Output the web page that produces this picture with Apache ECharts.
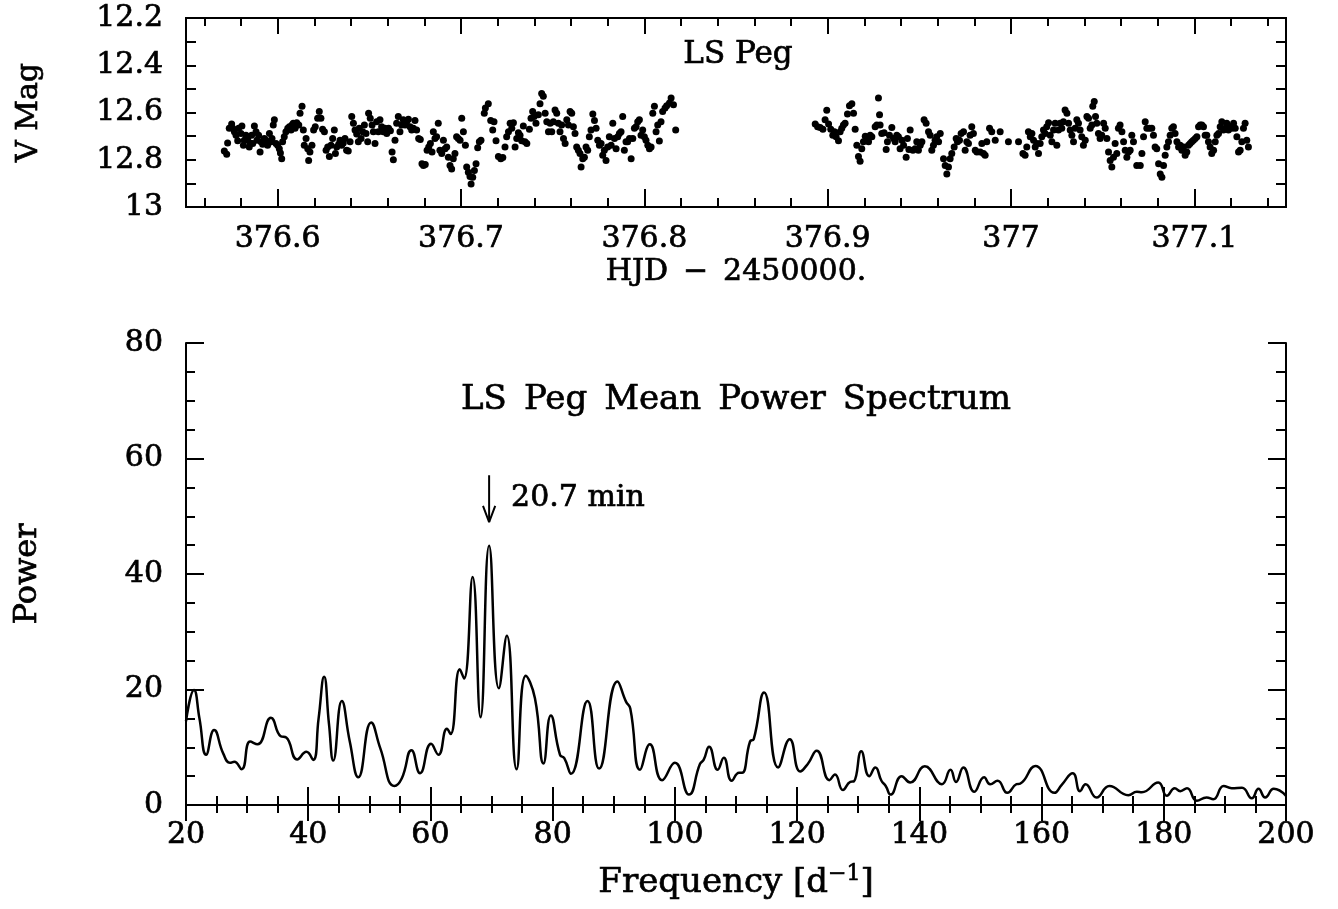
<!DOCTYPE html>
<html>
<head>
<meta charset="utf-8">
<script src="https://cdn.jsdelivr.net/npm/echarts@6/dist/echarts.min.js"></script>
<style>
html, body { margin: 0; padding: 0; background: #fff; }
#chart { width: 1338px; height: 909px; }
</style>
</head>
<body>
<div id="chart"></div>
<script>
// light curve, first stretch: [HJD - 2450000, V]
const lcSegmentA = [
  [376.5709,12.763],[376.5722,12.777],[376.5727,12.729],[376.5736,12.667],[376.5749,12.649],[376.5755,12.667],
  [376.5764,12.681],[376.5773,12.696],[376.5782,12.720],[376.5787,12.667],[376.5800,12.689],[376.5805,12.657],
  [376.5813,12.739],[376.5818,12.717],[376.5827,12.696],[376.5836,12.710],[376.5845,12.746],[376.5849,12.729],
  [376.5858,12.696],[376.5864,12.731],[376.5873,12.657],[376.5882,12.681],[376.5887,12.717],[376.5896,12.696],
  [376.5904,12.767],[376.5909,12.724],[376.5918,12.734],[376.5927,12.710],[376.5936,12.717],[376.5945,12.739],
  [376.5955,12.689],[376.5964,12.724],[376.5969,12.710],[376.5976,12.653],[376.5982,12.631],[376.5991,12.731],
  [376.6000,12.739],[376.6009,12.753],[376.6015,12.771],[376.6022,12.796],[376.6027,12.724],[376.6036,12.703],
  [376.6045,12.681],[376.6055,12.667],[376.6064,12.660],[376.6073,12.674],[376.6078,12.653],[376.6085,12.646],
  [376.6095,12.667],[376.6104,12.643],[376.6115,12.653],[376.6122,12.603],[376.6133,12.574],[376.6140,12.674],
  [376.6145,12.739],[376.6155,12.710],[376.6164,12.753],[376.6169,12.803],[376.6176,12.767],[376.6187,12.739],
  [376.6196,12.674],[376.6205,12.660],[376.6218,12.624],[376.6227,12.596],[376.6236,12.624],[376.6245,12.671],
  [376.6255,12.681],[376.6264,12.760],[376.6273,12.746],[376.6282,12.786],[376.6291,12.739],[376.6300,12.710],
  [376.6309,12.674],[376.6315,12.774],[376.6322,12.746],[376.6333,12.734],[376.6340,12.717],[376.6349,12.739],
  [376.6358,12.729],[376.6367,12.710],[376.6376,12.760],[376.6385,12.763],[376.6395,12.724],[376.6404,12.617],
  [376.6413,12.646],[376.6422,12.674],[376.6431,12.691],[376.6440,12.724],[376.6445,12.667],[376.6455,12.710],
  [376.6464,12.681],[376.6473,12.653],[376.6482,12.689],[376.6491,12.724],[376.6496,12.603],[376.6505,12.624],
  [376.6515,12.653],[376.6522,12.681],[376.6531,12.731],[376.6540,12.639],[376.6549,12.681],[376.6558,12.631],
  [376.6567,12.660],[376.6576,12.681],[376.6585,12.667],[376.6595,12.689],[376.6605,12.667],[376.6615,12.677],
  [376.6624,12.767],[376.6631,12.800],[376.6640,12.717],[376.6649,12.646],[376.6658,12.617],[376.6667,12.681],
  [376.6676,12.653],[376.6685,12.631],[376.6695,12.653],[376.6704,12.639],[376.6713,12.629],[376.6722,12.660],
  [376.6731,12.674],[376.6740,12.667],[376.6749,12.634],[376.6758,12.674],[376.6769,12.710],[376.6778,12.714],
  [376.6787,12.817],[376.6795,12.824],[376.6805,12.820],[376.6815,12.760],[376.6824,12.746],[376.6833,12.731],
  [376.6842,12.767],[376.6849,12.681],[376.6858,12.710],[376.6867,12.703],[376.6876,12.646],[376.6885,12.760],
  [376.6895,12.774],[376.6904,12.717],[376.6913,12.753],[376.6922,12.746],[376.6931,12.789],[376.6940,12.824],
  [376.6949,12.839],[376.6958,12.796],[376.6967,12.774],[376.6976,12.703],[376.6985,12.710],[376.6995,12.717],
  [376.7004,12.624],[376.7013,12.681],[376.7024,12.739],[376.7031,12.831],[376.7040,12.853],[376.7049,12.871],
  [376.7055,12.903],[376.7064,12.874],[376.7073,12.846],[376.7082,12.817],[376.7091,12.749],[376.7100,12.724],
  [376.7109,12.717],[376.7127,12.603],[376.7133,12.581],[376.7149,12.563],[376.7162,12.634],[376.7173,12.674],
  [376.7180,12.639],[376.7191,12.720],[376.7204,12.786],[376.7217,12.796],[376.7228,12.791],[376.7240,12.746],
  [376.7249,12.703],[376.7259,12.681],[376.7268,12.646],[376.7277,12.667],[376.7286,12.643],[376.7295,12.746],
  [376.7304,12.710],[376.7313,12.686],[376.7322,12.696],[376.7331,12.720],[376.7340,12.657],[376.7349,12.724],
  [376.7359,12.731],[376.7373,12.671],[376.7382,12.624],[376.7391,12.596],[376.7399,12.617],[376.7409,12.646],
  [376.7422,12.610],[376.7431,12.563],[376.7440,12.520],[376.7449,12.531],[376.7459,12.603],[376.7468,12.639],
  [376.7477,12.681],[376.7486,12.646],[376.7495,12.681],[376.7504,12.639],[376.7513,12.589],[376.7522,12.603],
  [376.7531,12.646],[376.7540,12.681],[376.7549,12.653],[376.7559,12.710],[376.7568,12.731],[376.7577,12.631],
  [376.7586,12.653],[376.7595,12.596],[376.7604,12.603],[376.7613,12.660],[376.7622,12.689],[376.7631,12.746],
  [376.7640,12.760],[376.7649,12.774],[376.7655,12.831],[376.7664,12.796],[376.7673,12.789],[376.7682,12.746],
  [376.7691,12.760],[376.7700,12.703],[376.7709,12.674],[376.7719,12.606],[376.7728,12.634],[376.7737,12.667],
  [376.7746,12.717],[376.7755,12.739],[376.7764,12.731],[376.7773,12.781],[376.7782,12.760],[376.7791,12.803],
  [376.7800,12.746],[376.7809,12.703],[376.7819,12.739],[376.7828,12.646],[376.7837,12.710],[376.7846,12.753],
  [376.7855,12.703],[376.7864,12.689],[376.7873,12.681],[376.7882,12.617],[376.7891,12.760],[376.7900,12.724],
  [376.7909,12.724],[376.7919,12.710],[376.7928,12.796],[376.7937,12.710],[376.7946,12.667],[376.7955,12.660],
  [376.7964,12.639],[376.7973,12.631],[376.7982,12.696],[376.7991,12.674],[376.8000,12.703],[376.8009,12.717],
  [376.8019,12.739],[376.8028,12.753],[376.8037,12.746],[376.8046,12.603],[376.8055,12.574],[376.8064,12.681],
  [376.8073,12.653],[376.8082,12.721],[376.8091,12.639],[376.8100,12.596],[376.8113,12.581],[376.8122,12.571],
  [376.8137,12.560],[376.8146,12.539],[376.8159,12.567],[376.8171,12.674]
];
// light curve, second stretch
const lcSegmentB = [
  [376.8932,12.649],[376.8945,12.660],[376.8959,12.663],[376.8974,12.671],[376.8986,12.631],[376.8995,12.591],
  [376.9005,12.649],[376.9017,12.671],[376.9028,12.696],[376.9037,12.681],[376.9046,12.703],[376.9059,12.720],
  [376.9068,12.681],[376.9077,12.667],[376.9086,12.653],[376.9095,12.646],[376.9108,12.606],[376.9119,12.571],
  [376.9132,12.563],[376.9141,12.603],[376.9150,12.671],[376.9159,12.739],[376.9168,12.786],[376.9177,12.806],
  [376.9186,12.753],[376.9195,12.724],[376.9205,12.700],[376.9214,12.714],[376.9223,12.724],[376.9232,12.696],
  [376.9241,12.703],[376.9259,12.660],[376.9268,12.653],[376.9277,12.539],[376.9283,12.610],[376.9286,12.653],
  [376.9295,12.689],[376.9308,12.686],[376.9319,12.757],[376.9326,12.724],[376.9337,12.696],[376.9350,12.663],
  [376.9359,12.710],[376.9368,12.724],[376.9377,12.696],[376.9386,12.703],[376.9395,12.753],[376.9405,12.717],
  [376.9414,12.739],[376.9428,12.789],[376.9435,12.710],[376.9443,12.757],[376.9450,12.674],[376.9465,12.760],
  [376.9477,12.753],[376.9486,12.724],[376.9495,12.760],[376.9505,12.739],[376.9514,12.724],[376.9526,12.631],
  [376.9537,12.646],[376.9550,12.681],[376.9559,12.696],[376.9568,12.760],[376.9577,12.739],[376.9586,12.717],
  [376.9595,12.703],[376.9605,12.724],[376.9614,12.689],[376.9632,12.796],[376.9641,12.824],[376.9650,12.860],
  [376.9659,12.831],[376.9668,12.796],[376.9677,12.774],[376.9690,12.746],[376.9701,12.710],[376.9708,12.724],
  [376.9719,12.717],[376.9728,12.689],[376.9741,12.681],[376.9750,12.760],[376.9759,12.724],[376.9768,12.731],
  [376.9777,12.696],[376.9786,12.660],[376.9795,12.689],[376.9805,12.760],[376.9814,12.767],[376.9832,12.767],
  [376.9841,12.731],[376.9850,12.774],[376.9859,12.781],[376.9868,12.724],[376.9883,12.667],[376.9895,12.681],
  [376.9914,12.717],[376.9941,12.681],[376.9986,12.724],[377.0041,12.724],[377.0065,12.774],[377.0077,12.781],
  [377.0086,12.746],[377.0095,12.681],[377.0105,12.703],[377.0114,12.689],[377.0123,12.717],[377.0132,12.746],
  [377.0141,12.731],[377.0150,12.774],[377.0159,12.731],[377.0168,12.703],[377.0177,12.674],[377.0186,12.689],
  [377.0195,12.660],[377.0205,12.643],[377.0214,12.696],[377.0223,12.724],[377.0232,12.674],[377.0241,12.646],
  [377.0250,12.739],[377.0259,12.674],[377.0268,12.646],[377.0277,12.667],[377.0286,12.639],[377.0295,12.589],
  [377.0305,12.603],[377.0314,12.646],[377.0323,12.674],[377.0332,12.696],[377.0341,12.724],[377.0350,12.667],
  [377.0359,12.631],[377.0368,12.646],[377.0377,12.674],[377.0386,12.703],[377.0395,12.739],[377.0405,12.717],
  [377.0414,12.617],[377.0423,12.624],[377.0432,12.667],[377.0441,12.653],[377.0446,12.574],[377.0454,12.553],
  [377.0461,12.617],[377.0468,12.646],[377.0477,12.689],[377.0486,12.710],[377.0495,12.696],[377.0505,12.646],
  [377.0514,12.667],[377.0523,12.710],[377.0532,12.767],[377.0541,12.803],[377.0550,12.831],[377.0559,12.789],
  [377.0568,12.731],[377.0577,12.774],[377.0586,12.667],[377.0595,12.653],[377.0605,12.681],[377.0614,12.724],
  [377.0623,12.760],[377.0632,12.789],[377.0641,12.767],[377.0650,12.760],[377.0659,12.696],[377.0668,12.724],
  [377.0686,12.824],[377.0705,12.824],[377.0714,12.774],[377.0723,12.703],[377.0732,12.639],[377.0741,12.667],
  [377.0755,12.667],[377.0768,12.667],[377.0777,12.696],[377.0786,12.746],[377.0795,12.753],[377.0805,12.817],
  [377.0814,12.860],[377.0823,12.874],[377.0832,12.824],[377.0841,12.781],[377.0850,12.746],[377.0859,12.724],
  [377.0868,12.696],[377.0877,12.667],[377.0886,12.660],[377.0895,12.689],[377.0905,12.724],[377.0914,12.746],
  [377.0923,12.739],[377.0932,12.760],[377.0941,12.746],[377.0950,12.781],[377.0959,12.767],[377.0968,12.739],
  [377.0977,12.731],[377.0986,12.724],[377.0995,12.717],[377.1005,12.710],[377.1014,12.703],[377.1023,12.660],
  [377.1032,12.653],[377.1041,12.653],[377.1050,12.660],[377.1059,12.696],[377.1068,12.696],[377.1077,12.724],
  [377.1086,12.746],[377.1095,12.774],[377.1105,12.760],[377.1114,12.724],[377.1123,12.696],[377.1132,12.689],
  [377.1141,12.660],[377.1150,12.639],[377.1159,12.674],[377.1168,12.667],[377.1177,12.646],[377.1186,12.674],
  [377.1195,12.660],[377.1205,12.667],[377.1214,12.646],[377.1223,12.667],[377.1232,12.703],[377.1241,12.767],
  [377.1250,12.760],[377.1259,12.724],[377.1268,12.667],[377.1277,12.646],[377.1286,12.717],[377.1295,12.746]
];

// HJD tick marks of the light-curve panel
const lcMajorTicks = [376.6, 376.7, 376.8, 376.9, 377.0, 377.1];
const lcMinorTicks = [376.56, 376.58, 376.62, 376.64, 376.66, 376.68, 376.72, 376.74, 376.76, 376.78,
  376.82, 376.84, 376.86, 376.88, 376.92, 376.94, 376.96, 376.98, 377.02, 377.04, 377.06, 377.08,
  377.12, 377.14];

// mean power spectrum (frequency in 1/d, power)
const psFreq = [
  20.0, 21.3, 22.2, 23.3, 24.6, 26.1, 27.2, 27.9, 29.1, 30.5, 31.7, 33.9, 35.5, 36.4, 38.2, 39.7, 40.8,
  41.7, 42.6, 43.4, 44.1, 45.5, 46.8, 48.2, 50.3, 51.8, 54.1, 55.3, 56.9, 58.3, 60.1, 61.3, 62.7, 63.3,
  64.8, 65.5, 66.9, 68.2, 69.6, 71.2, 72.5, 74.1, 75.6, 77.1, 78.5, 79.7, 81.2, 81.9, 83.0, 85.7, 87.6,
  90.6, 92.0, 92.7, 94.3, 95.9, 97.9, 100.0, 102.3, 104.1, 104.7, 105.6, 107.0, 108.0, 109.3, 110.5,
  111.0, 112.3, 112.9, 114.6, 116.9, 118.8, 120.5, 121.8, 123.2, 125.3, 126.2, 127.5, 128.7, 129.3,
  130.5, 131.8, 132.8, 133.8, 134.5, 135.3, 137.1, 138.5, 140.9, 143.7, 145.1, 146.0, 147.2, 149.0,
  150.6, 151.6, 152.8, 154.4, 155.9, 156.5, 159.0, 162.1, 163.3, 165.1, 166.3, 167.2, 169.0, 171.1,
  174.2, 175.6, 176.4, 179.1, 180.5, 181.8, 182.7, 183.8, 185.4, 187.0, 188.1, 189.8, 191.1, 192.8,
  194.4, 195.5, 196.6, 198.0, 200.0
];
const psPower = [
  14.5, 19.9, 15.0, 8.7, 13.0, 8.9, 7.3, 7.5, 6.2, 11.0, 10.5, 15.1, 11.9, 11.7, 7.9, 9.2, 7.8,
  15.0, 22.2, 14.0, 7.7, 18.0, 11.0, 4.8, 14.3, 9.8, 3.3, 4.6, 9.5, 5.5, 10.6, 8.7, 13.2, 12.3,
  23.5, 21.9, 39.5, 15.2, 44.9, 20.2, 29.3, 6.2, 22.4, 18.5, 7.2, 15.5, 8.7, 8.1, 5.4, 18.0, 6.3,
  21.4, 17.9, 16.7, 6.1, 10.5, 4.3, 7.3, 1.8, 7.1, 7.8, 10.1, 6.1, 8.2, 4.2, 5.6,
  5.6, 11.0, 11.4, 19.5, 6.5, 11.4, 5.8, 7.2, 9.4, 4.3, 5.3, 2.6, 4.0, 4.1,
  9.3, 5.0, 6.5, 4.2, 3.3, 1.8, 5.0, 3.9, 6.7, 3.6, 6.1, 4.0, 6.5, 2.3,
  4.8, 3.6, 4.2, 2.1, 3.6, 3.7, 6.75, 2.1, 3.5, 5.5, 2.4, 3.6, 1.3, 3.3,
  1.7, 2.3, 2.2, 3.9, 1.6, 2.9, 2.4, 2.9, 0.75, 1.3, 1.0, 3.3, 2.9, 3.0,
  1.15, 2.8, 1.3, 2.8, 1.6
];

// arrow marking the strongest peak
const arrowTop = 57.1;
const arrowTip = 49.0;
const arrowLabel = '20.7 min';

const FONT = "'DejaVu Serif', serif";
const INK = '#000';
// thin outline to give the DejaVu glyphs the heavier look of the plotted font
const HEAVY = { textBorderColor: INK, textBorderWidth: 0.7 };

const chart = echarts.init(document.getElementById('chart'));

const peakIdx = psPower.indexOf(Math.max(...psPower));
const peakFreq = psFreq[peakIdx];

const axisLine = { show: true, lineStyle: { color: INK, width: 2 } };
const tick = (length, extra) => Object.assign({ show: true, inside: true, length, lineStyle: { color: INK, width: 2 } }, extra || {});
const minor = (splitNumber, length) => ({ show: true, splitNumber, length, lineStyle: { color: INK, width: 2 } });
const label = (margin, extra) => Object.assign({ color: INK, fontFamily: FONT, fontSize: 30, margin }, HEAVY, extra || {});
const nameStyle = Object.assign({ color: INK, fontFamily: FONT, fontSize: 30 }, HEAVY);
const noLabel = { show: false };
const noSplit = { show: false };

const lcX = (position, tickOpt, labelOpt, extra) => Object.assign({
  type: 'value', gridIndex: 0, position, min: 376.55, max: 377.15,
  axisLine, axisTick: tickOpt, axisLabel: labelOpt, splitLine: noSplit,
}, extra || {});

const psX = (position, labelOpt, extra) => Object.assign({
  type: 'value', gridIndex: 1, position, min: 20, max: 200, interval: 20,
  axisLine, axisTick: tick(position === 'top' ? 16 : 18), minorTick: minor(4, position === 'top' ? 8 : 9),
  axisLabel: labelOpt, splitLine: noSplit, minorSplitLine: noSplit,
}, extra || {});

chart.setOption({
  animation: false,
  backgroundColor: '#fff',
  grid: [
    { left: 186, top: 18, width: 1100, height: 189 },
    { left: 186, top: 343, width: 1100, height: 462 },
  ],
  xAxis: [
    lcX('bottom', tick(18, { customValues: lcMajorTicks }), label(17, { customValues: lcMajorTicks }), {
      name: 'HJD\u2002\u2212\u20022450000.', nameLocation: 'middle', nameGap: 50, nameTextStyle: nameStyle,
    }),
    lcX('bottom', tick(9, { customValues: lcMinorTicks }), noLabel),
    lcX('top', tick(16, { customValues: lcMajorTicks }), noLabel),
    lcX('top', tick(8, { customValues: lcMinorTicks }), noLabel),
    psX('bottom', label(15), {
      name: '{a|Frequency [d}{s|\u22121}{a|]}', nameLocation: 'middle', nameGap: 58,
      nameTextStyle: {
        rich: {
          a: Object.assign({ color: INK, fontFamily: FONT, fontSize: 34, lineHeight: 40 }, HEAVY),
          s: Object.assign({ color: INK, fontFamily: FONT, fontSize: 22, verticalAlign: 'top', lineHeight: 40 }, HEAVY),
        },
      },
    }),
    psX('top', noLabel),
  ],
  yAxis: [
    {
      type: 'value', gridIndex: 0, position: 'left', inverse: true, min: 12.2, max: 13, interval: 0.2,
      axisLine, axisTick: tick(10), minorTick: minor(2, 10), axisLabel: label(23),
      splitLine: noSplit, minorSplitLine: noSplit,
      name: 'V Mag', nameLocation: 'middle', nameGap: 142, nameTextStyle: nameStyle,
    },
    {
      type: 'value', gridIndex: 0, position: 'right', inverse: true, min: 12.2, max: 13, interval: 0.2,
      axisLine, axisTick: tick(10), minorTick: minor(2, 10), axisLabel: noLabel,
      splitLine: noSplit, minorSplitLine: noSplit,
    },
    {
      type: 'value', gridIndex: 1, position: 'left', min: 0, max: 80, interval: 20,
      axisLine, axisTick: tick(18), minorTick: minor(4, 9), axisLabel: label(23),
      splitLine: noSplit, minorSplitLine: noSplit,
      name: 'Power', nameLocation: 'middle', nameGap: 142, nameTextStyle: Object.assign({}, nameStyle, { fontSize: 32 }),
    },
    {
      type: 'value', gridIndex: 1, position: 'right', min: 0, max: 80, interval: 20,
      axisLine, axisTick: tick(18), minorTick: minor(4, 10), axisLabel: noLabel,
      splitLine: noSplit, minorSplitLine: noSplit,
    },
  ],
  graphic: [
    {
      type: 'text', x: 738, y: 55,
      style: { text: 'LS Peg', font: "31px 'DejaVu Serif'", fill: INK, stroke: INK, lineWidth: 0.7, align: 'center', verticalAlign: 'middle', textAlign: 'center', textVerticalAlign: 'middle' },
    },
    {
      type: 'text', x: 736, y: 400,
      style: { text: 'LS\u2002Peg\u2002Mean\u2002Power\u2002Spectrum', font: "34px 'DejaVu Serif'", fill: INK, stroke: INK, lineWidth: 0.7, align: 'center', verticalAlign: 'middle', textAlign: 'center', textVerticalAlign: 'middle' },
    },
  ],
  series: [
    {
      type: 'scatter', xAxisIndex: 0, yAxisIndex: 0, silent: true,
      data: lcSegmentA.concat(lcSegmentB), symbolSize: 7, itemStyle: { color: INK, opacity: 1 },
    },
    {
      type: 'line', xAxisIndex: 4, yAxisIndex: 2, silent: true,
      data: psFreq.map((f, i) => [f, psPower[i]]), smooth: 0.5, showSymbol: false,
      lineStyle: { color: INK, width: 2.5 },
    },
    {
      type: 'line', xAxisIndex: 4, yAxisIndex: 2, silent: true, showSymbol: false,
      data: [[peakFreq, arrowTop], [peakFreq, arrowTip]], lineStyle: { color: INK, width: 2 },
    },
    {
      type: 'line', xAxisIndex: 4, yAxisIndex: 2, silent: true, showSymbol: false,
      data: [[peakFreq - 1, arrowTip + 2.8], [peakFreq, arrowTip], [peakFreq + 1, arrowTip + 2.8]],
      lineStyle: { color: INK, width: 2 },
    },
    {
      type: 'scatter', xAxisIndex: 4, yAxisIndex: 2, silent: true, symbolSize: 0,
      itemStyle: { opacity: 1 },
      data: [[peakFreq, (arrowTop + arrowTip) / 2]],
      label: Object.assign({ show: true, position: 'right', distance: 22, formatter: arrowLabel, color: INK, fontFamily: FONT, fontSize: 30 }, HEAVY),
    },
  ],
});
</script>
</body>
</html>
